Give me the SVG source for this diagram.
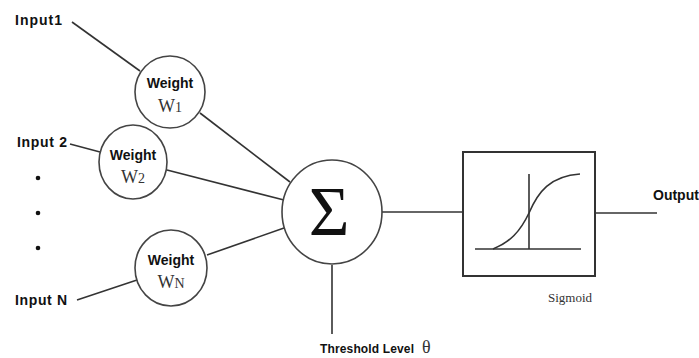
<svg xmlns="http://www.w3.org/2000/svg" width="699" height="358" viewBox="0 0 699 358">
<style>
.ln{stroke:#333;stroke-width:1.6;fill:none}
.nd{stroke:#444;stroke-width:1.6;fill:#fff}
.lb{font-family:"Liberation Sans",Arial,sans-serif;font-weight:bold;fill:#111}
.sf{font-family:"Liberation Serif","Times New Roman",serif;fill:#333}
</style>
<rect width="699" height="358" fill="#fff"/>
<g id="connectors">
<line class="ln" x1="72" y1="22" x2="140" y2="71"/>
<line class="ln" x1="200" y1="113" x2="290" y2="182"/>
<line class="ln" x1="70" y1="144" x2="100" y2="152"/>
<line class="ln" x1="167" y1="170" x2="284" y2="200"/>
<line class="ln" x1="77" y1="300" x2="137" y2="280"/>
<line class="ln" x1="207" y1="255" x2="284" y2="228"/>
<line class="ln" x1="382" y1="212" x2="463" y2="212"/>
<line class="ln" x1="332" y1="265" x2="332" y2="334" stroke-width="2"/>
<line class="ln" x1="595" y1="213" x2="657" y2="213"/>
</g>
<g id="input1"><text class="lb" x="15" y="25" font-size="14" textLength="47">Input1</text></g>
<g id="input2"><text class="lb" x="17" y="147" font-size="14" textLength="50">Input 2</text></g>
<g id="inputN"><text class="lb" x="15" y="305" font-size="14" textLength="52">Input N</text></g>
<g id="dots" fill="#111">
<circle cx="38" cy="178" r="2.3"/>
<circle cx="38" cy="213" r="2.3"/>
<circle cx="38" cy="248" r="2.3"/>
</g>
<g id="w1">
<ellipse class="nd" cx="170" cy="92" rx="35" ry="36"/>
<text class="lb" x="170" y="88" font-size="14" text-anchor="middle">Weight</text>
<text class="sf" x="170" y="112" font-size="18" text-anchor="middle">W<tspan font-size="14">1</tspan></text>
</g>
<g id="w2">
<ellipse class="nd" cx="133" cy="162" rx="34" ry="37"/>
<text class="lb" x="133" y="160" font-size="14" text-anchor="middle">Weight</text>
<text class="sf" x="133" y="183" font-size="18" text-anchor="middle">W<tspan font-size="14">2</tspan></text>
</g>
<g id="wN">
<ellipse class="nd" cx="171" cy="268" rx="36" ry="38"/>
<text class="lb" x="171" y="265" font-size="14" text-anchor="middle">Weight</text>
<text class="sf" x="171" y="288" font-size="18" text-anchor="middle">W<tspan font-size="14">N</tspan></text>
</g>
<g id="sum">
<ellipse class="nd" cx="332" cy="212" rx="50" ry="52"/>
<text x="329" y="235" font-family="'Liberation Serif','Times New Roman',serif" font-size="70" text-anchor="middle" fill="#111">Σ</text>
</g>
<g id="threshold">
<text class="lb" x="320" y="353" font-size="12" textLength="94">Threshold Level</text>
<text class="sf" x="422" y="353" font-size="18" fill="#222">θ</text>
</g>
<g id="sigmoid">
<rect x="463" y="152" width="132" height="124" fill="#fff" stroke="#333" stroke-width="2"/>
<line class="ln" x1="475" y1="249" x2="581" y2="249"/>
<line class="ln" x1="529" y1="174" x2="529" y2="249"/>
<path class="ln" d="M493,249 C510,242 520,232 529,213 C538,192 550,176 580,174"/>
<text class="sf" x="570" y="302" font-size="13" text-anchor="middle" fill="#444">Sigmoid</text>
</g>
<g id="output"><text class="lb" x="653" y="200" font-size="14">Output</text></g>
</svg>
